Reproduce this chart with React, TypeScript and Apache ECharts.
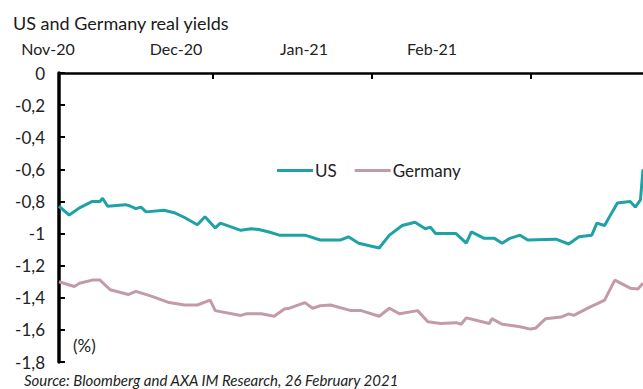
import React, { useEffect, useRef } from "react";
import * as echarts from "echarts";

// Days counted from 1 Nov 2020
const monthTickDays = [0, 30, 61, 92];
const monthLabels = ["Nov-20", "Dec-20", "Jan-21", "Feb-21"];
const yTicks = [0, -0.2, -0.4, -0.6, -0.8, -1, -1.2, -1.4, -1.6, -1.8];

const usDays = [0, 2, 4, 6.5, 8, 8.5, 9.5, 13, 14, 15, 16, 17, 20.5, 22.5, 24.5, 27, 28.5, 30.5, 31.5, 35.5, 36.5, 37.5, 39, 41, 43, 48, 51, 55, 56.5, 58.5, 62.5, 64.5, 67, 69.5, 71.5, 72.5, 73.5, 77.5, 79.5, 80.5, 83, 85, 86.5, 88, 90, 91.5, 97, 99.5, 101.5, 104, 105, 106.5, 108, 109, 111.5, 112.5, 113.5, 114];
const usValues = [-0.83, -0.885, -0.84, -0.8, -0.8, -0.78, -0.83, -0.82, -0.83, -0.845, -0.835, -0.865, -0.855, -0.87, -0.9, -0.945, -0.895, -0.965, -0.935, -0.98, -0.975, -0.97, -0.975, -0.99, -1.01, -1.01, -1.04, -1.04, -1.02, -1.06, -1.09, -1.01, -0.95, -0.93, -0.97, -0.96, -1.0, -1.0, -1.06, -0.99, -1.03, -1.03, -1.06, -1.03, -1.01, -1.04, -1.035, -1.065, -1.02, -1.01, -0.935, -0.95, -0.865, -0.81, -0.8, -0.835, -0.79, -0.6];

const deDays = [0, 3, 4, 6.5, 8, 10, 13.5, 15, 18, 21.5, 24.5, 27, 29.5, 30.5, 35.5, 36.5, 39.5, 42, 44, 45, 48, 49.5, 51, 53, 57, 59, 62.5, 64.5, 66.5, 70, 72, 74.5, 77.5, 78.5, 79.5, 84, 84.5, 86.5, 90, 92, 93, 95, 98, 99.5, 100.5, 103.5, 105.5, 106.5, 108.5, 111.5, 113, 114];
const deValues = [-1.3, -1.33, -1.31, -1.29, -1.29, -1.35, -1.38, -1.36, -1.39, -1.43, -1.445, -1.445, -1.415, -1.48, -1.51, -1.5, -1.5, -1.515, -1.47, -1.465, -1.43, -1.465, -1.45, -1.445, -1.48, -1.48, -1.515, -1.465, -1.5, -1.48, -1.55, -1.56, -1.555, -1.565, -1.525, -1.56, -1.53, -1.565, -1.58, -1.595, -1.59, -1.53, -1.52, -1.5, -1.51, -1.46, -1.43, -1.415, -1.29, -1.34, -1.345, -1.31];

const FONT = "Lato";

export default function App() {
  const ref = useRef<HTMLDivElement>(null);
  useEffect(() => {
    if (!ref.current) return;
    const chart = echarts.init(ref.current, null, { renderer: "svg" });
    const fmt = (v: number) => String(Math.round(v * 10) / 10).replace(".", ",");
    chart.setOption({
      animation: false,
      backgroundColor: "#ffffff",
      textStyle: { fontFamily: FONT },
      title: {
        text: "US and Germany real yields",
        left: 8,
        top: 9,
        textStyle: { fontFamily: FONT, fontSize: 18, fontWeight: "normal", color: "#1a1a1a" },
      },
      legend: {
        left: 272,
        top: 157,
        icon: "rect",
        itemWidth: 36,
        itemHeight: 3,
        itemGap: 18,
        textStyle: { fontFamily: FONT, fontSize: 17, color: "#222", padding: [0, 0, 0, -3] },
        data: ["US", "Germany"],
      },
      grid: [
        { left: 59, right: 0, top: 73, bottom: 27, containLabel: false },
        { left: 0, right: 0, top: 73, bottom: 27, containLabel: false, show: false },
      ],
      xAxis: [
        {
          type: "value",
          gridIndex: 0,
          position: "top",
          min: 0,
          max: 114,
          axisLine: { show: true, onZero: false, lineStyle: { color: "#000", width: 2.5 } },
          axisTick: { show: true, inside: true, length: 6, customValues: monthTickDays, lineStyle: { color: "#000", width: 2 } },
          axisLabel: { show: false },
          splitLine: { show: false },
        },
        {
          type: "value",
          gridIndex: 1,
          position: "top",
          min: -48 / 128,
          max: -48 / 128 + 643 / 128,
          axisLine: { show: false },
          axisTick: { show: false },
          splitLine: { show: false },
          axisLabel: {
            show: true,
            customValues: [0, 1, 2, 3],
            margin: 17,
            fontFamily: FONT,
            fontSize: 16,
            color: "#222",
            formatter: (v: number) => monthLabels[Math.round(v)] ?? "",
          },
        },
      ],
      yAxis: [
        {
          type: "value",
          gridIndex: 0,
          min: -1.8,
          max: 0,
          interval: 0.2,
          axisLine: { show: true, onZero: false, lineStyle: { color: "#000", width: 3.5 } },
          axisTick: { show: true, inside: true, length: 6, customValues: yTicks, lineStyle: { color: "#000", width: 2 } },
          axisLabel: { margin: 14, fontFamily: FONT, fontSize: 17, color: "#222", customValues: yTicks, formatter: fmt },
          splitLine: { show: false },
        },
        {
          type: "value",
          gridIndex: 1,
          min: 0,
          max: 1,
          show: false,
        },
      ],
      graphic: [
        { type: "text", left: 73, top: 337, style: { text: "(%)", fontFamily: FONT, fontSize: 17, fill: "#222" } },
        {
          type: "text",
          left: 24,
          top: 372,
          style: {
            text: "Source: Bloomberg and AXA IM Research, 26 February 2021",
            fontFamily: FONT,
            fontSize: 15,
            fontStyle: "italic",
            fill: "#222",
          },
        },
      ],
      series: [
        {
          name: "US",
          type: "line",
          xAxisIndex: 0,
          yAxisIndex: 0,
          showSymbol: false,
          color: "#1fa2a6",
          lineStyle: { width: 3, color: "#1fa2a6" },
          data: usDays.map((d, i) => [d, usValues[i]]),
        },
        {
          name: "Germany",
          type: "line",
          xAxisIndex: 0,
          yAxisIndex: 0,
          showSymbol: false,
          color: "#c39ba8",
          lineStyle: { width: 3, color: "#c39ba8" },
          data: deDays.map((d, i) => [d, deValues[i]]),
        },
      ],
    });
    return () => chart.dispose();
  }, []);
  return <div ref={ref} style={{ width: 643, height: 389, position: "absolute", left: 0, top: 0 }} />;
}
